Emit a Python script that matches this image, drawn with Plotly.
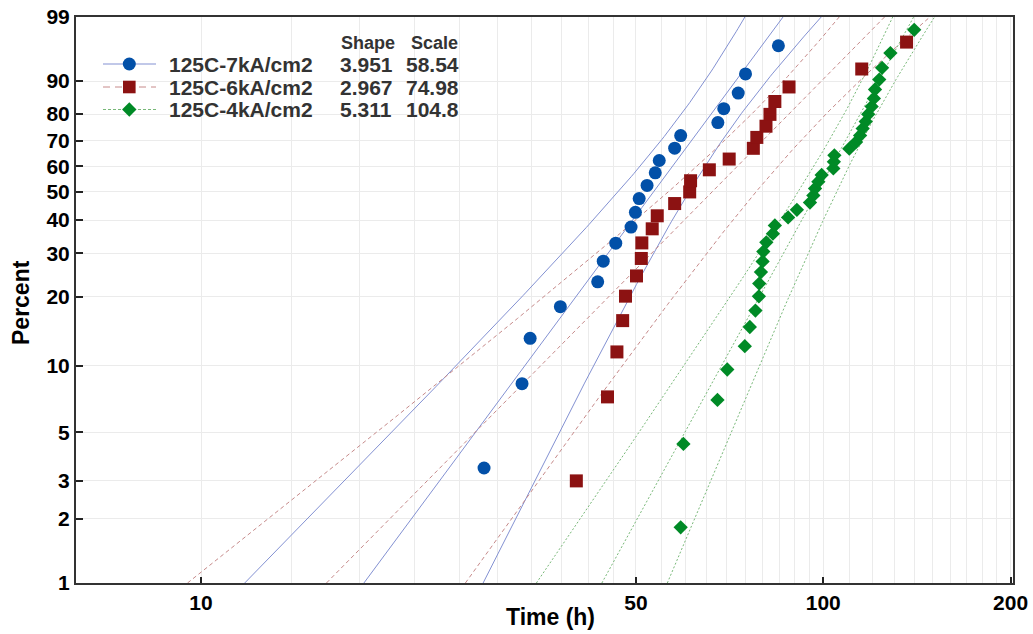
import numpy as np
import plotly.graph_objects as go

# ---------------- data ----------------
percent_ticks = [1, 2, 3, 5, 10, 20, 30, 40, 50, 60, 70, 80, 90, 99]
time_ticks = [10, 50, 100, 200]
time_minor_grid = [14, 18, 22, 26, 30, 34, 38, 42, 46, 55, 60, 65, 70, 75, 80, 85, 90, 95,
                   110, 120, 130, 140, 150, 160, 170, 180, 190]

series_names = ["125C-7kA/cm2", "125C-6kA/cm2", "125C-4kA/cm2"]
shape_params = [3.951, 2.967, 5.311]
scale_params = [58.54, 74.98, 104.8]

time_7k = [28.5, 32.8, 33.8, 37.8, 43.4, 44.3, 46.4, 49.1, 49.9, 50.6,
           52.1, 53.7, 54.5, 57.7, 59.0, 67.7, 69.2, 73.0, 75.0, 84.7]
pct_7k = [3.43, 8.33, 13.24, 18.14, 23.04, 27.94, 32.84, 37.75, 42.65, 47.55,
          52.45, 57.35, 62.25, 67.16, 72.06, 76.96, 81.86, 86.76, 91.67, 96.57]

time_6k = [40.1, 45.0, 46.6, 47.6, 48.1, 50.1, 51.0, 51.1, 53.1, 54.1, 57.7, 61.0,
           61.2, 65.6, 70.6, 77.2, 78.2, 80.9, 82.1, 83.6, 88.1, 115.3, 136.1]
pct_6k = [2.99, 7.26, 11.54, 15.81, 20.09, 24.36, 28.63, 32.91, 37.18, 41.45, 45.73, 50.00,
          54.27, 58.55, 62.82, 67.09, 71.37, 75.64, 79.91, 84.19, 88.46, 92.74, 97.01]

time_4k = [59.0, 59.6, 67.6, 70.1, 74.8, 76.2, 77.8, 78.8, 78.9, 79.4, 79.9, 80.1, 81.0,
           83.0, 83.6, 87.8, 90.7, 95.2, 96.4, 97.0, 98.2, 99.4, 103.8, 104.0, 104.2,
           110.1, 112.9, 114.6, 115.7, 117.0, 118.1, 119.6, 120.6, 121.1, 123.0, 124.3,
           128.2, 140.0]
pct_4k = [1.82, 4.43, 7.03, 9.64, 12.24, 14.84, 17.45, 20.05, 22.66, 25.26, 27.86, 30.47,
          33.07, 35.68, 38.28, 40.89, 43.49, 46.09, 48.70, 51.30, 53.91, 56.51, 59.11,
          61.72, 64.32, 66.93, 69.53, 72.14, 74.74, 77.34, 79.95, 82.55, 85.16, 87.76,
          90.36, 92.97, 95.57, 98.18]

times = [time_7k, time_6k, time_4k]
pcts = [pct_7k, pct_6k, pct_4k]

# ---------------- styles ----------------
marker_colors = ["#0250a8", "#8c1212", "#008a26"]
line_colors = ["#8391d2", "#c68a8a", "#78b878"]
line_dash = ["solid", "4px,3px", "2px,2px"]
legend_dash = ["solid", "7px,5px", "3px,2px"]
marker_symbols = ["circle", "square", "diamond"]
marker_sizes = [13, 13, 11]
FONT = "Liberation Sans, Arial, sans-serif"

W = lambda p: np.log(-np.log(1.0 - np.asarray(p, dtype=float)))
y_lo, y_hi = float(W(0.01)), float(W(0.99))


def fisher_cov(t, shape, scale):
    lt = np.log(np.asarray(t, dtype=float))
    u, b = np.log(scale), 1.0 / shape
    z = (lt - u) / b
    e = np.exp(z)
    huu = -np.sum(e) / b**2
    hub = -(np.sum(e - 1) + np.sum(z * e)) / b**2
    hbb = np.sum(1 + 2 * z - 2 * z * e - z**2 * e) / b**2
    info = -np.array([[huu, hub], [hub, hbb]])
    return u, b, np.linalg.inv(info)


fig = go.Figure()
wgrid = np.linspace(y_lo, y_hi, 200)
zq = 1.959964
for k in range(3):
    u, b, cov = fisher_cov(times[k], shape_params[k], scale_params[k])
    yp = u + b * wgrid
    se = np.sqrt(cov[0, 0] + wgrid**2 * cov[1, 1] + 2 * wgrid * cov[0, 1])
    for curve in (np.exp(yp - zq * se), np.exp(yp), np.exp(yp + zq * se)):
        fig.add_trace(go.Scatter(x=curve, y=wgrid, mode="lines", showlegend=False,
                                 hoverinfo="skip",
                                 line=dict(color=line_colors[k], width=1, dash=line_dash[k])))

for k in range(3):
    fig.add_trace(go.Scatter(x=times[k], y=W(np.array(pcts[k]) / 100.0), mode="markers",
                             name=series_names[k], showlegend=False,
                             marker=dict(symbol=marker_symbols[k], size=marker_sizes[k],
                                         color=marker_colors[k], line=dict(width=0))))

# ---------------- manual legend ----------------
L, R, T, B = 76, 1013, 17, 583
px = lambda v: (v - L) / (R - L)
py = lambda v: (B - v) / (B - T)

annotations = []
shapes = []
row_y = [64, 87, 109.5]
annotations.append(dict(x=px(339), y=py(43), xref="paper", yref="paper", text="Shape",
                        showarrow=False, xanchor="left", yanchor="middle",
                        font=dict(family=FONT, size=18, color="#333", weight="bold")))
annotations.append(dict(x=px(460), y=py(43), xref="paper", yref="paper", text="Scale",
                        showarrow=False, xanchor="right", yanchor="middle",
                        font=dict(family=FONT, size=18, color="#333", weight="bold")))
for k in range(3):
    yy = py(row_y[k])
    shapes.append(dict(type="line", xref="paper", yref="paper", x0=px(103), x1=px(156),
                       y0=yy, y1=yy, line=dict(color=line_colors[k], width=1, dash=legend_dash[k])))
    common = dict(xref="paper", yref="paper", xsizemode="pixel", ysizemode="pixel",
                  xanchor=px(129.3), yanchor=yy, fillcolor=marker_colors[k], line=dict(width=0))
    if k == 0:
        shapes.append(dict(type="circle", x0=-6.5, x1=6.5, y0=-6.5, y1=6.5, **common))
    elif k == 1:
        shapes.append(dict(type="rect", x0=-6.3, x1=6.3, y0=-6.3, y1=6.3, **common))
    else:
        shapes.append(dict(type="path", path="M0,7.2 L7.2,0 L0,-7.2 L-7.2,0 Z", **common))
    f = dict(family=FONT, size=21, color="#333", weight="bold")
    annotations.append(dict(x=px(167), y=yy, xref="paper", yref="paper", text=series_names[k],
                            showarrow=False, xanchor="left", yanchor="middle", font=f))
    annotations.append(dict(x=px(338), y=yy, xref="paper", yref="paper",
                            text=f"{shape_params[k]:.3f}", showarrow=False,
                            xanchor="left", yanchor="middle", font=f))
    annotations.append(dict(x=px(461), y=yy, xref="paper", yref="paper",
                            text=f"{scale_params[k]:.4g}", showarrow=False,
                            xanchor="right", yanchor="middle", font=f))

titlefont = dict(family=FONT, size=23, color="#000", weight="bold")
annotations.append(dict(x=px(550), y=py(617), xref="paper", yref="paper", text="Time (h)",
                        showarrow=False, xanchor="center", yanchor="middle", font=titlefont))
annotations.append(dict(x=px(21), y=py(303), xref="paper", yref="paper", text="Percent",
                        textangle=-90, showarrow=False, xanchor="center", yanchor="middle",
                        font=titlefont))

tickfont = dict(family=FONT, size=21, color="#000", weight="bold")
grid = "#ebebeb"

fig.update_layout(
    width=1033, height=634, autosize=False,
    margin=dict(l=L, r=1033 - R, t=T, b=634 - B, autoexpand=False),
    paper_bgcolor="white", plot_bgcolor="white",
    showlegend=False, annotations=annotations, shapes=shapes,
    xaxis=dict(type="log", range=[0.7991, 2.3049], tickmode="array", automargin=False,
               tickvals=time_ticks, ticktext=[str(v) for v in time_ticks],
               ticks="inside", ticklen=6, tickwidth=2, tickcolor="#222",
               showgrid=True, gridcolor=grid, gridwidth=1,
               minor=dict(tickmode="array", tickvals=time_minor_grid, showgrid=True,
                          gridcolor=grid, gridwidth=1, ticks=""),
               showline=True, linecolor="#333", linewidth=2, mirror=True,
               tickfont=tickfont, zeroline=False),
    yaxis=dict(range=[y_lo, y_hi], tickmode="array", automargin=False,
               tickvals=[float(W(p / 100.0)) for p in percent_ticks],
               ticktext=[str(p) for p in percent_ticks],
               ticks="inside", ticklen=7, tickwidth=2, tickcolor="#222",
               showgrid=True, gridcolor=grid, gridwidth=1,
               showline=True, linecolor="#333", linewidth=2, mirror=True,
               tickfont=tickfont, zeroline=False),
)

fig.write_html("out.html", config={"displayModeBar": False},
               post_script="document.body.style.margin='0';document.body.style.overflow='hidden';")
